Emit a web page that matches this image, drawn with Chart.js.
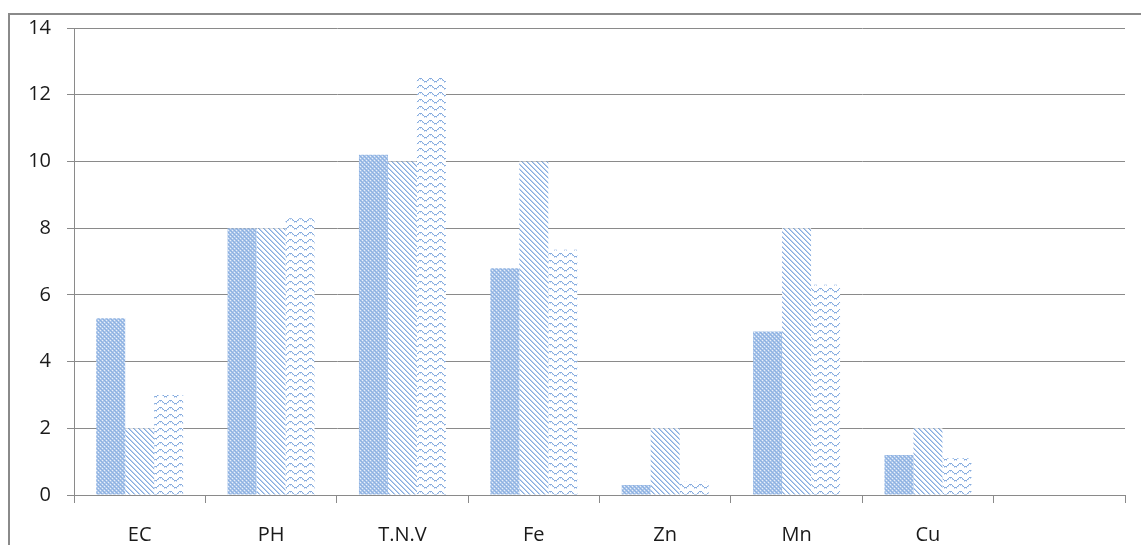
<!DOCTYPE html>
<html>
<head>
<meta charset="utf-8">
<script src="https://cdn.jsdelivr.net/npm/chart.js@4"></script>
<style>
html,body{margin:0;padding:0;background:#fff;overflow:hidden;}
#wrap{position:absolute;left:0;top:0;width:1141px;height:545px;}
#frame{position:absolute;left:8px;top:13px;width:1200px;height:600px;border-top:2px solid #8a8a8a;border-left:2px solid #8a8a8a;}
canvas{position:absolute;left:0;top:0;}
</style>
</head>
<body>
<div id="wrap">
<div id="frame"></div>
<canvas id="c" width="1141" height="545"></canvas>
</div>
<script>
const categories = ["EC", "PH", "T.N.V", "Fe", "Zn", "Mn", "Cu", ""];
const series1 = [5.3, 8.0, 10.2, 6.8, 0.3, 4.9, 1.2, null];
const series2 = [2.0, 8.0, 10.0, 10.0, 2.0, 8.0, 2.0, null];
const series3 = [3.0, 8.3, 12.5, 7.35, 0.4, 6.3, 1.1, null];
const yTicks = [0, 2, 4, 6, 8, 10, 12, 14];

function makePattern(w, h, draw) {
  const cv = document.createElement('canvas');
  cv.width = w; cv.height = h;
  const g = cv.getContext('2d');
  g.fillStyle = '#ffffff';
  g.fillRect(0, 0, w, h);
  draw(g);
  return document.getElementById('c').getContext('2d').createPattern(cv, 'repeat');
}
const blue = '#86acdf';
const pat1 = makePattern(4, 4, g => {
  g.fillStyle = '#aac5ea'; g.fillRect(0, 0, 4, 4);
  g.fillStyle = '#8bb0e0';
  g.fillRect(0, 0, 1, 1); g.fillRect(2, 2, 1, 1); g.fillRect(1, 1, 1, 1); g.fillRect(3, 3, 1, 1);
  g.fillStyle = '#eaf1fa';
  g.fillRect(2, 0, 1, 1); g.fillRect(0, 2, 1, 1);
});
const pat2 = makePattern(5, 5, g => {
  g.fillStyle = blue;
  for (let i = 0; i < 5; i++) { g.fillRect(i, i, 1, 1); }
  g.fillStyle = '#b9d0ef';
  for (let i = 0; i < 5; i++) { g.fillRect((i + 1) % 5, i, 1, 1); }
});
const pat3 = makePattern(10, 7, g => {
  g.fillStyle = blue;
  const ys = [0, 0, 1, 2, 3, 3, 3, 2, 1, 0];
  for (let x = 0; x < 10; x++) { g.fillRect(x, ys[x] + 1, 1, 1); }
  g.fillStyle = '#c2d6f1';
  const ys2 = [1, 1, 2, 3, 4, 4, 4, 3, 2, 1];
  for (let x = 0; x < 10; x += 2) { g.fillRect(x, ys2[x] + 1, 1, 1); }
});

const fontFam = "'Open Sans', 'Liberation Sans', sans-serif";

new Chart(document.getElementById('c'), {
  type: 'bar',
  data: {
    labels: categories,
    datasets: [
      { label: 'S1', data: series1, backgroundColor: pat1, borderWidth: 0 },
      { label: 'S2', data: series2, backgroundColor: pat2, borderWidth: 0 },
      { label: 'S3', data: series3, backgroundColor: pat3, borderWidth: 0 }
    ]
  },
  options: {
    responsive: false,
    animation: false,
    devicePixelRatio: 1,
    layout: { padding: { top: 24, right: 16, left: 0, bottom: 0 } },
    plugins: { legend: { display: false }, tooltip: { enabled: false } },
    datasets: { bar: { categoryPercentage: 0.662, barPercentage: 1.0 } },
    scales: {
      x: {
        grid: { drawOnChartArea: false, drawTicks: true, tickLength: 8, color: '#8a8a8a', offset: true },
        border: { color: '#8a8a8a', width: 1 },
        ticks: { color: '#1a1a1a', font: { family: fontFam, size: 20 }, padding: 20, maxRotation: 0 },
        afterFit: s => { s.height = 50; }
      },
      y: {
        min: 0, max: 14,
        afterBuildTicks: s => { s.ticks = yTicks.map(v => ({ value: v })); },
        grid: { color: '#8a8a8a', tickLength: 7 },
        border: { color: '#8a8a8a', width: 1 },
        ticks: { color: '#1a1a1a', font: { family: fontFam, size: 20 }, padding: 16 },
        afterFit: s => { s.width = 74; }
      }
    }
  }
});
</script>
</body>
</html>
